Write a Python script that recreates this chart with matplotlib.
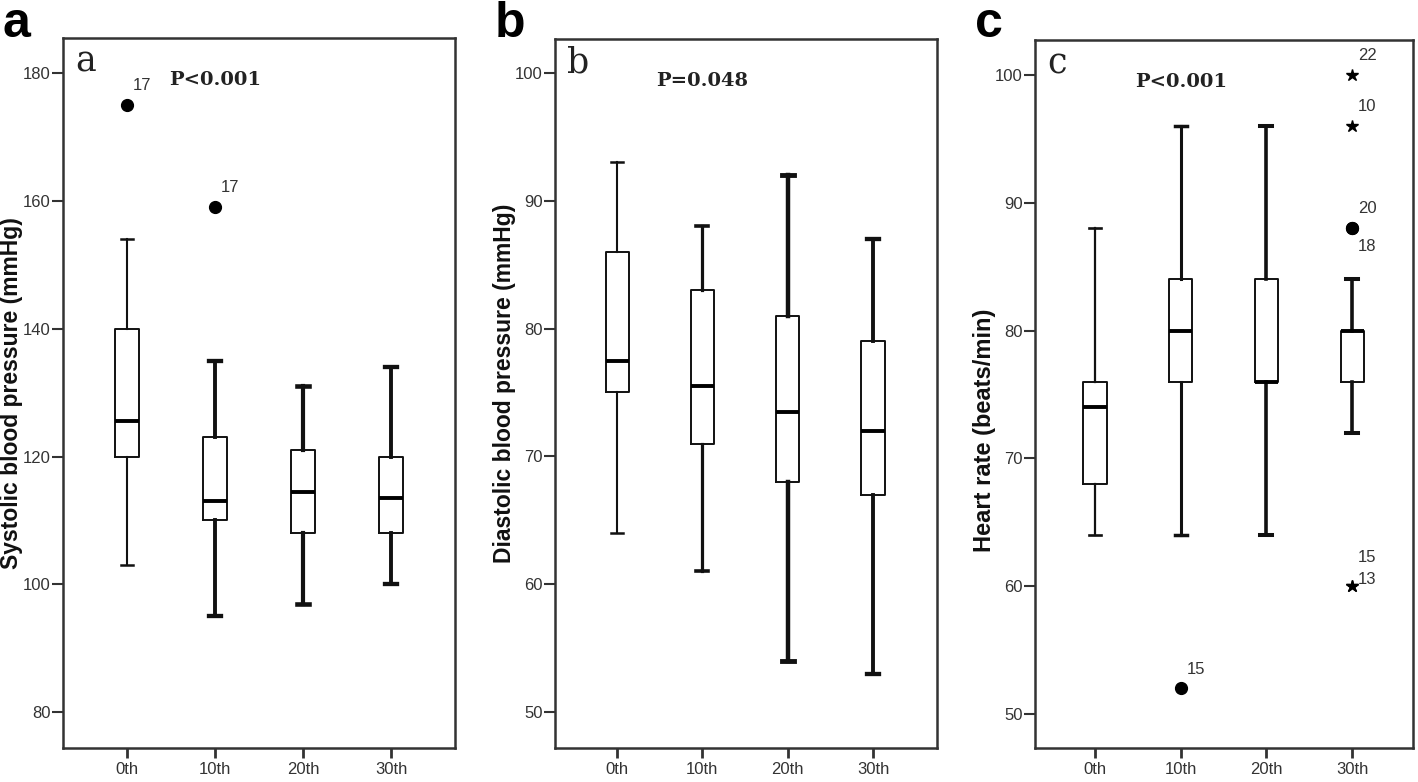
import numpy as np
import matplotlib
matplotlib.use("Agg")
import matplotlib.pyplot as plt

# ---------------- data ----------------
groups = ["0th", "10th", "20th", "30th"]

# (a) systolic blood pressure
sbp_whislo = [103, 95, 97, 100]
sbp_q1 = [120, 110, 108, 108]
sbp_med = [125.5, 113, 114.5, 113.5]
sbp_q3 = [140, 123, 121, 120]
sbp_whishi = [154, 135, 131, 134]
sbp_ticks = [80, 100, 120, 140, 160, 180]
sbp_out_group = [1, 2]
sbp_out_value = [175, 159]
sbp_out_label = ["17", "17"]
sbp_out_kind = ["o", "o"]

# (b) diastolic blood pressure
dbp_whislo = [64, 61, 54, 53]
dbp_q1 = [75, 71, 68, 67]
dbp_med = [77.5, 75.5, 73.5, 72]
dbp_q3 = [86, 83, 81, 79]
dbp_whishi = [93, 88, 92, 87]
dbp_ticks = [50, 60, 70, 80, 90, 100]
dbp_out_group = []
dbp_out_value = []
dbp_out_label = []
dbp_out_kind = []

# (c) heart rate
hr_whislo = [64, 64, 64, 72]
hr_q1 = [68, 76, 76, 76]
hr_med = [74, 80, 76, 80]
hr_q3 = [76, 84, 84, 80]
hr_whishi = [88, 96, 96, 84]
hr_ticks = [50, 60, 70, 80, 90, 100]
hr_out_group = [2, 4, 4, 4, 4, 4, 4]
hr_out_value = [52, 100, 96, 88, 88, 60, 60]
hr_out_label = ["15", "22", "10", "20", "18", "15", "13"]
hr_out_kind = ["o", "*", "*", "o", "o", "*", "*"]

# ---------------- figure ----------------
W, H = 1418, 782
fig = plt.figure(figsize=(W / 100, H / 100), dpi=100)
fig.patch.set_facecolor("white")

SANS = ["Liberation Sans", "DejaVu Sans"]
SERIF = ["DejaVu Serif"]


def px_axes(l, t, r, b):
    return fig.add_axes([l / W, 1 - b / H, (r - l) / W, (b - t) / H])


def draw_panel(ax, whislo, q1, med, q3, whishi, ticks, ylim, xlim,
               out_group, out_value, out_label, out_kind, label_offsets,
               inner, ptext, whisker_lw):
    pos = np.arange(1, len(groups) + 1)
    stats = [dict(label=g, whislo=a, q1=b, med=c, q3=d, whishi=e, fliers=[])
             for g, a, b, c, d, e in zip(groups, whislo, q1, med, q3, whishi)]
    art = ax.bxp(stats, positions=pos, widths=0.27, capwidths=0.14,
                 showfliers=False, patch_artist=False,
                 boxprops=dict(color="#111111", lw=1.4),
                 whiskerprops=dict(color="#111111", lw=2.3),
                 capprops=dict(color="#111111", lw=2.5),
                 medianprops=dict(color="#000000", lw=2.8))
    for i, lw in enumerate(whisker_lw):
        for ln in art["whiskers"][2 * i:2 * i + 2]:
            ln.set_linewidth(lw)
        for ln in art["caps"][2 * i:2 * i + 2]:
            ln.set_linewidth(lw + 0.3)
    for kind, ms in (("o", 8.5), ("*", 9)):
        xs = [g for g, k in zip(out_group, out_kind) if k == kind]
        ys = [v for v, k in zip(out_value, out_kind) if k == kind]
        if xs:
            ax.plot(xs, ys, ls="none", marker=kind, ms=ms, color="black",
                    mec="black", zorder=4)
    for g, v, lab, off in zip(out_group, out_value, out_label, label_offsets):
        ax.annotate(lab, (g, v), xytext=off, textcoords="offset points",
                    ha="center", va="center", fontsize=12, color="#333333",
                    family=SANS)
    ax.set_xlim(*xlim)
    ax.set_ylim(*ylim)
    ax.set_yticks(ticks)
    ax.set_xticks(pos)
    ax.set_xticklabels(groups)
    for s in ax.spines.values():
        s.set_linewidth(1.8)
        s.set_color("#333333")
    ax.tick_params(axis="y", direction="out", length=8, width=1.5, pad=1,
                   colors="#333333", labelsize=12)
    ax.tick_params(axis="x", direction="out", length=7, width=2, pad=3,
                   colors="#333333", labelsize=12)
    for t in ax.get_xticklabels() + ax.get_yticklabels():
        t.set_family(SANS)
    ax.text(0.032, 0.953, inner, transform=ax.transAxes, fontsize=25,
            family=SERIF, ha="left", va="baseline", color="#222222")
    ax.text(2.0, 0.941, ptext, transform=ax.get_xaxis_transform(),
            fontsize=14, family=SERIF, weight="bold", ha="center",
            va="center", color="#222222")


axA = px_axes(63, 38, 455, 748)
draw_panel(axA, sbp_whislo, sbp_q1, sbp_med, sbp_q3, sbp_whishi, sbp_ticks,
           (74.4, 185.5), (0.273, 4.727),
           sbp_out_group, sbp_out_value, sbp_out_label, sbp_out_kind,
           [(11, 14), (11, 14)], "a", "P<0.001", [1.5, 2.8, 3.0, 2.8])

axB = px_axes(555, 39, 937, 748)
draw_panel(axB, dbp_whislo, dbp_q1, dbp_med, dbp_q3, dbp_whishi, dbp_ticks,
           (47.18, 102.66), (0.273, 4.75),
           dbp_out_group, dbp_out_value, dbp_out_label, dbp_out_kind,
           [], "b", "P=0.048", [1.5, 2.3, 3.2, 2.8])

axC = px_axes(1035, 40, 1413, 748)
draw_panel(axC, hr_whislo, hr_q1, hr_med, hr_q3, hr_whishi, hr_ticks,
           (47.34, 102.74), (0.30, 4.71),
           hr_out_group, hr_out_value, hr_out_label, hr_out_kind,
           [(11, 14), (11, 14), (11, 14), (11, 14), (11, -13), (11, 21), (11, 5)],
           "c", "P<0.001", [1.6, 2.2, 2.6, 2.6])

# y labels
fig.text(12 / W, 1 - 393 / H, "Systolic blood pressure (mmHg)", rotation=90,
         ha="center", va="center", fontsize=16.5, weight="bold", family=SANS,
         color="#111111")
fig.text(504 / W, 1 - 383 / H, "Diastolic blood pressure (mmHg)", rotation=90,
         ha="center", va="center", fontsize=16.5, weight="bold", family=SANS,
         color="#111111")
fig.text(985 / W, 1 - 430 / H, "Heart rate (beats/min)", rotation=90,
         ha="center", va="center", fontsize=17, weight="bold", family=SANS,
         color="#111111")

# panel letters
for x, letter in ((2, "a"), (495, "b"), (975, "c")):
    fig.text(x / W, 1 - 37 / H, letter, ha="left", va="baseline",
             fontsize=36, weight="bold", family=SANS, color="black")

fig.savefig("out.png", dpi=100, facecolor="white")
